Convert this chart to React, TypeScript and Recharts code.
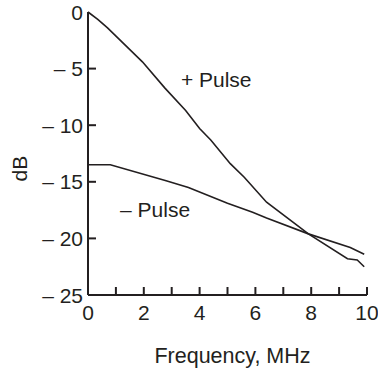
import React from 'react';
import { LineChart, Line, XAxis, YAxis, ReferenceDot } from 'recharts';

// + Pulse curve (frequency MHz, dB)
const plusFreq = [0, 0.35, 0.7, 1.95, 2.75, 3.5, 4.0, 4.4, 5.1, 5.6, 6.4, 7.9, 9.3, 9.65, 9.9];
const plusDb = [0, -0.65, -1.4, -4.4, -6.7, -8.7, -10.3, -11.3, -13.4, -14.6, -16.8, -19.6, -21.8, -21.9, -22.5];

// – Pulse curve
const minusFreq = [0, 0.8, 2.8, 3.6, 5.0, 5.9, 6.4, 7.9, 9.4, 9.9];
const minusDb = [-13.5, -13.5, -14.9, -15.5, -16.9, -17.7, -18.2, -19.6, -20.8, -21.4];

const xTicks = [0, 1, 2, 3, 4, 5, 6, 7, 8, 9, 10];
const xLabelTicks = [0, 2, 4, 6, 8, 10];
const yTicks = [0, -5, -10, -15, -20, -25];

const noteText = ['+ Pulse', '\u2013 Pulse'];
const noteFreq = [3.33, 1.15];
const noteDb = [-6.6, -18.1];

const ink = '#231f20';
const font = '"Liberation Sans", Arial, Helvetica, sans-serif';

const plusData = plusFreq.map((f, i) => ({ f, db: plusDb[i] }));
const minusData = minusFreq.map((f, i) => ({ f, db: minusDb[i] }));

const XTick = (props: any) => {
  const { x, y, payload } = props;
  return (
    <g>
      {payload.value !== 0 && <line x1={x} x2={x} y1={y} y2={y - 8} stroke={ink} strokeWidth={2} />}
      {xLabelTicks.includes(payload.value) && (
        <text x={x} y={y + 25} textAnchor="middle" fontSize={21} fill={ink} fontFamily={font}>
          {payload.value}
        </text>
      )}
    </g>
  );
};

const YTick = (props: any) => {
  const { x, y, payload } = props;
  const v = payload.value;
  const label = v === 0 ? '0' : '\u2013 ' + Math.abs(v);
  return (
    <g>
      {v !== 0 && v !== -25 && <line x1={x} x2={x + 8} y1={y} y2={y} stroke={ink} strokeWidth={2} />}
      <text x={x - 5} y={y} dy="0.36em" textAnchor="end" fontSize={21} fill={ink} fontFamily={font}>
        {label}
      </text>
    </g>
  );
};

const note = (text: string) => (p: any) => (
  <text x={p.cx} y={p.cy} fontSize={21} fill={ink} fontFamily={font}>
    {text}
  </text>
);

export default function App() {
  return (
    <div style={{ position: 'absolute', left: 0, top: 0, width: 378, height: 368, background: '#fff' }}>
      <LineChart width={378} height={368} margin={{ top: 12, right: 11, bottom: 0, left: 0 }}>
        <XAxis
          dataKey="f"
          type="number"
          domain={[0, 10]}
          ticks={xTicks}
          interval={0}
          allowDuplicatedCategory={false}
          height={73}
          tickSize={0}
          tickMargin={0}
          tickLine={false}
          tick={<XTick />}
          axisLine={{ stroke: ink, strokeWidth: 2 }}
          label={{ value: 'Frequency, MHz', position: 'insideBottom', offset: 5, dx: 5, fontSize: 21.5, fill: ink, fontFamily: font }}
        />
        <YAxis
          dataKey="db"
          type="number"
          domain={[-25, 0]}
          ticks={yTicks}
          interval={0}
          width={88}
          tickSize={0}
          tickMargin={0}
          tickLine={false}
          tick={<YTick />}
          axisLine={{ stroke: ink, strokeWidth: 2 }}
          label={{ value: 'dB', angle: -90, position: 'insideLeft', offset: 20, dy: 28, fontSize: 21, fill: ink, fontFamily: font }}
        />
        <Line data={plusData} dataKey="db" type="linear" stroke={ink} strokeWidth={1.6} dot={false} isAnimationActive={false} />
        <Line data={minusData} dataKey="db" type="linear" stroke={ink} strokeWidth={1.6} dot={false} isAnimationActive={false} />
        {noteText.map((t, i) => (
          <ReferenceDot key={t} x={noteFreq[i]} y={noteDb[i]} r={0} ifOverflow="visible" shape={note(t)} />
        ))}
      </LineChart>
    </div>
  );
}
